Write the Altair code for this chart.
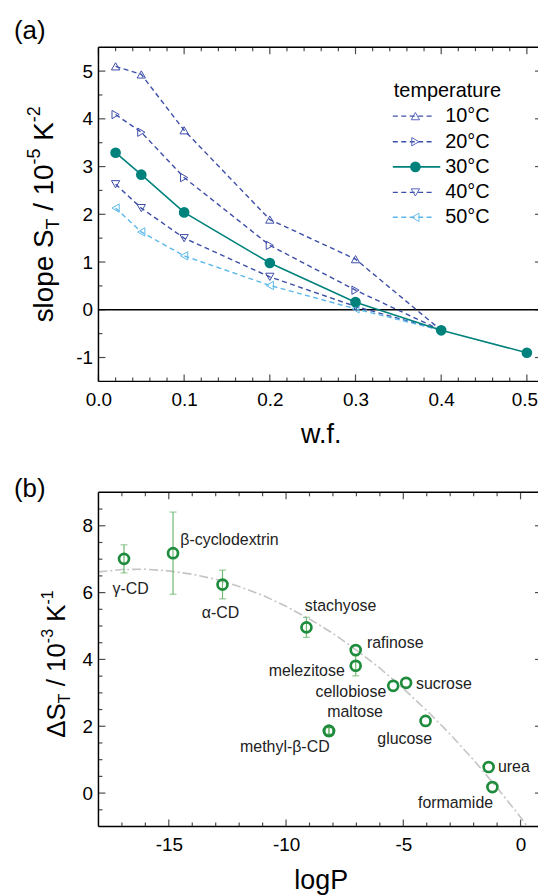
import altair as alt
import pandas as pd

FONT = "Liberation Sans"

# ---------------- panel (a) data ----------------
temps = ["10°C", "20°C", "30°C", "40°C", "50°C"]
wf = [0.02, 0.05, 0.1, 0.2, 0.3, 0.4]
wf30 = [0.02, 0.05, 0.1, 0.2, 0.3, 0.4, 0.5]
s10 = [5.10, 4.93, 3.76, 1.89, 1.06, -0.43]
s20 = [4.09, 3.72, 2.77, 1.35, 0.41, -0.43]
s30 = [3.29, 2.83, 2.04, 0.98, 0.16, -0.43, -0.90]
s40 = [2.63, 2.13, 1.50, 0.69, 0.07, -0.43]
s50 = [2.13, 1.63, 1.13, 0.51, 0.02, -0.43]

# ---------------- panel (b) data ----------------
names = ["γ-CD", "β-cyclodextrin", "α-CD", "stachyose", "rafinose", "melezitose",
         "cellobiose", "sucrose", "maltose", "methyl-β-CD", "glucose", "urea", "formamide"]
logp = [-16.91, -14.82, -12.71, -9.13, -7.03, -7.03, -5.43, -4.88, -8.17, -8.17, -4.05, -1.36, -1.20]
dst = [7.01, 7.18, 6.24, 4.96, 4.28, 3.81, 3.21, 3.30, 1.86, 1.86, 2.16, 0.78, 0.18]
err = [0.42, 1.23, 0.43, 0.30, 0.0, 0.30, 0.0, 0.0, 0.10, 0.10, 0.0, 0.0, 0.0]
fit_x = [-18, -17, -16, -15, -14, -13, -12, -11, -10, -9, -8, -7, -6, -5, -4, -3, -2, -1, 0, 0.3]
fit_y = [6.62, 6.69, 6.70, 6.65, 6.55, 6.40, 6.18, 5.92, 5.59, 5.21, 4.78, 4.28, 3.74, 3.13,
         2.47, 1.76, 0.99, 0.16, -0.72, -1.0]

# tick values
xa_major = [0, 0.1, 0.2, 0.3, 0.4, 0.5]
xa_minor = [0.02, 0.04, 0.06, 0.08, 0.12, 0.14, 0.16, 0.18, 0.22, 0.24, 0.26, 0.28,
            0.32, 0.34, 0.36, 0.38, 0.42, 0.44, 0.46, 0.48]
ya_major = [-1, 0, 1, 2, 3, 4, 5]
ya_minor = [-0.5, 0.5, 1.5, 2.5, 3.5, 4.5]
xb_major = [-15, -10, -5, 0]
xb_minor = [-17, -16, -14, -13, -12, -11, -9, -8, -7, -6, -4, -3, -2, -1]
yb_major = [0, 2, 4, 6, 8]
yb_minor = [-0.5, 0.5, 1, 1.5, 2.5, 3, 3.5, 4.5, 5, 5.5, 6.5, 7, 7.5, 8.5]

W, H = 442, 336   # plot runs off the right edge of the figure, as in the reference

# ---------------- styles ----------------
line_colors = ["#3d4ea8", "#3d4ea8", "#00827c", "#3d4ea8", "#5bb8ea"]
mark_colors = ["#5565bd", "#5565bd", "#00827c", "#5565bd", "#6cc0ee"]
shapes = ["triangle-up", "triangle-right", "circle", "triangle-down", "triangle-left"]
GREEN = "#1e8c3c"
EGREEN = "#72b872"

label_style = {
    "γ-CD": (6.7, 30, "center"),
    "β-cyclodextrin": (7.3, -13.7, "left"),
    "α-CD": (-2, 28.7, "center"),
    "stachyose": (-1.7, -21.7, "left"),
    "rafinose": (11.3, -6.7, "left"),
    "melezitose": (-11, 5, "right"),
    "cellobiose": (-7, 6, "right"),
    "sucrose": (10, 1, "left"),
    "maltose": (-1.7, -19.3, "left"),
    "methyl-β-CD": (0.7, 15.7, "right"),
    "glucose": (-21, 18, "center"),
    "urea": (9.3, 0, "left"),
    "formamide": (0.7, 16, "right"),
}

ONE = pd.DataFrame({"k": [0]})

AW = {"s": .5, "l": .222, "o": .556, "p": .556, "e": .556, " ": .278, "S": .667, "T": .611,
      "/": .278, "1": .556, "0": .556, "-": .333, "5": .556, "K": .667, "2": .556, "3": .556,
      "Δ": .667}


def tw(t, fs):
    return sum(AW.get(c, .556) for c in t) * fs


def rot_title(pieces, bx, y_start):
    layers = []
    y = y_start
    for txt, fs, shift in pieces:
        lead = len(txt) - len(txt.lstrip(" "))
        y -= tw(" " * lead, fs)
        core = txt.lstrip(" ")
        layers.append(
            alt.Chart(ONE).mark_text(text=core, angle=270, align="left", baseline="alphabetic",
                                     font=FONT, fontSize=fs, color="black")
            .encode(x=alt.value(bx + shift), y=alt.value(y)))
        y -= tw(core, fs)
    return layers


def total_w(pieces):
    return sum(tw(t, fs) for t, fs, _ in pieces)


def text_at(txt, x, y, fs, align="left", baseline="alphabetic", color="black"):
    return alt.Chart(ONE).mark_text(text=txt, align=align, baseline=baseline, font=FONT,
                                    fontSize=fs, color=color).encode(x=alt.value(x), y=alt.value(y))


def axis(values, expr, pad, **kw):
    return alt.Axis(values=values, labelExpr=expr, title=None, labelPadding=pad, ticks=False,
                    tickSize=0, domain=False, grid=False, labelFontSize=19, labelFont=FONT,
                    labelColor="black", labelFlush=False, labelOverlap=False, labelBound=False, **kw)


xs_a = alt.Scale(domain=[0, 0.513], nice=False, zero=False)
ys_a = alt.Scale(domain=[-1.5, 5.5], nice=False, zero=False)
xs_b = alt.Scale(domain=[-18, 0.745], nice=False, zero=False)
ys_b = alt.Scale(domain=[-1, 9], nice=False, zero=False)
ax_xa = axis(xa_major, "format(datum.value, '.1f')", 9,
             labelOffset={"condition": {"test": "datum.value > 0.45", "value": -2.5}, "value": 0})
ax_ya = axis(ya_major, "'' + datum.value", 6)
ax_xb = axis(xb_major, "'' + datum.value", 9)
ax_yb = axis(yb_major, "'' + datum.value", 6)


def XA(f):
    return alt.X(f, type="quantitative", scale=xs_a, axis=ax_xa)


def YA(f):
    return alt.Y(f, type="quantitative", scale=ys_a, axis=ax_ya)


def XB(f):
    return alt.X(f, type="quantitative", scale=xs_b, axis=ax_xb)


def YB(f):
    return alt.Y(f, type="quantitative", scale=ys_b, axis=ax_yb)


def frame_layers():
    r = dict(color="black", strokeWidth=1.5)
    return [
        alt.Chart(ONE).mark_rule(**r).encode(x=alt.value(0), y=alt.value(0), y2=alt.value(H)),
        alt.Chart(ONE).mark_rule(**r).encode(x=alt.value(0), x2=alt.value(W), y=alt.value(0)),
        alt.Chart(ONE).mark_rule(**r).encode(x=alt.value(0), x2=alt.value(W), y=alt.value(H)),
    ]


def tick_layers(X, Y, xmaj, xmin, ymaj, ymin):
    out = []
    for vals, L in ((xmaj, 7), (xmin, 4)):
        d = pd.DataFrame({"v": vals})
        for yv in (H - L / 2, L / 2):
            out.append(alt.Chart(d).mark_tick(orient="vertical", size=L, thickness=1.2, color="black")
                       .encode(x=X("v"), y=alt.value(yv)))
    for vals, L in ((ymaj, 7), (ymin, 4)):
        d = pd.DataFrame({"v": vals})
        out.append(alt.Chart(d).mark_tick(orient="horizontal", size=L, thickness=1.2, color="black")
                   .encode(y=Y("v"), x=alt.value(L / 2)))
    # right-hand ticks: only the tips of the major ticks reach into the figure
    d = pd.DataFrame({"v": ymaj})
    out.append(alt.Chart(d).mark_tick(orient="horizontal", size=3, thickness=1.2, color="black")
               .encode(y=Y("v"), x=alt.value(W - 1.5)))
    return out


# ---------------- panel (a) ----------------
rows = []
for t, xs, ys in zip(temps, [wf, wf, wf30, wf, wf], [s10, s20, s30, s40, s50]):
    for x, y in zip(xs, ys):
        rows.append({"temp": t, "wf": x, "slope": y})
dfa = pd.DataFrame(rows)
dfa_dash = dfa[dfa.temp != "30°C"]
dfa_solid = dfa[dfa.temp == "30°C"]

col_line = alt.Color("temp:N", scale=alt.Scale(domain=temps, range=line_colors), legend=None)

zero = alt.Chart(ONE).mark_rule(color="black", strokeWidth=1.5).encode(
    y=alt.Y(datum=0, scale=ys_a, axis=ax_ya), x=alt.value(0), x2=alt.value(W))
dash_lines = alt.Chart(dfa_dash).mark_line(strokeDash=[5, 3.5], strokeWidth=1.4).encode(
    x=XA("wf"), y=YA("slope"), color=col_line, detail="temp:N")
tri = alt.Chart(dfa_dash[dfa_dash.wf < 0.35]).mark_point(filled=False, size=70, strokeWidth=1, opacity=1).encode(
    x=XA("wf"), y=YA("slope"),
    color=alt.Color("temp:N", scale=alt.Scale(domain=temps, range=mark_colors), legend=None),
    shape=alt.Shape("temp:N", scale=alt.Scale(domain=temps, range=shapes), legend=None))
teal_line = alt.Chart(dfa_solid).mark_line(color="#00827c", strokeWidth=1.6).encode(x=XA("wf"), y=YA("slope"))
teal_pts = alt.Chart(dfa_solid).mark_point(filled=True, size=115, color="#00827c", opacity=1).encode(
    x=XA("wf"), y=YA("slope"))

leg = [text_at("temperature", 297, 50, 20)]
leg_y = [69.3, 95, 120.3, 146, 171]
for i, t in enumerate(temps):
    yy = leg_y[i]
    if t == "30°C":
        leg.append(alt.Chart(ONE).mark_rule(color=line_colors[i], strokeWidth=1.6)
                   .encode(x=alt.value(296), x2=alt.value(343.7), y=alt.value(yy)))
        leg.append(alt.Chart(ONE).mark_point(filled=True, size=115, color=line_colors[i], opacity=1)
                   .encode(x=alt.value(318.7), y=alt.value(yy)))
    else:
        leg.append(alt.Chart(ONE).mark_rule(color=line_colors[i], strokeWidth=1.4, strokeDash=[5, 3.5])
                   .encode(x=alt.value(296), x2=alt.value(337), y=alt.value(yy)))
        leg.append(alt.Chart(ONE).mark_point(filled=False, size=70, strokeWidth=1, shape=shapes[i],
                                             color=mark_colors[i], opacity=1)
                   .encode(x=alt.value(318.7), y=alt.value(yy)))
    leg.append(text_at(t, 348.7, yy, 20, baseline="middle"))

title_a = [("slope S", 28, 0), ("T", 18, 6), (" / 10", 28, 0), ("-5", 18, -13), (" K", 28, 0), ("-2", 18, -13)]
ya_start = H / 2 + total_w(title_a) / 2
panel_a = alt.layer(
    zero, dash_lines, tri, teal_line, teal_pts,
    *frame_layers(),
    *tick_layers(XA, YA, xa_major, xa_minor, ya_major, ya_minor),
    *leg,
    text_at("(a)", -85, -8, 26),
    text_at("w.f.", 224, H + 61.5, 27, align="center"),
    *rot_title(title_a, -46, ya_start),
).properties(width=W, height=H)

# ---------------- panel (b) ----------------
dfb = pd.DataFrame({"name": names, "logp": logp, "dst": dst, "err": err})
dff = pd.DataFrame({"fx": fit_x, "fy": fit_y})

fit = alt.Chart(dff).mark_line(color="#c4c4c4", strokeWidth=1.6, strokeDash=[9, 3, 2, 3], clip=True).encode(
    x=XB("fx"), y=YB("fy"))
eb_base = alt.Chart(dfb).transform_filter("datum.err > 0").transform_calculate(
    lo="datum.dst - datum.err", hi="datum.dst + datum.err")
ebar = eb_base.mark_rule(color=EGREEN, strokeWidth=1.2).encode(x=XB("logp"), y=YB("lo:Q"), y2="hi:Q")
cap_lo = eb_base.mark_tick(orient="horizontal", size=7, thickness=1.2, color=EGREEN).encode(x=XB("logp"), y=YB("lo:Q"))
cap_hi = eb_base.mark_tick(orient="horizontal", size=7, thickness=1.2, color=EGREEN).encode(x=XB("logp"), y=YB("hi:Q"))
pts = alt.Chart(dfb).mark_point(filled=False, size=100, strokeWidth=2.7, color=GREEN, opacity=1).encode(
    x=XB("logp"), y=YB("dst"))

labels = []
for nm, (dx, dy, al) in label_style.items():
    labels.append(alt.Chart(dfb).transform_filter(alt.datum.name == nm)
                  .mark_text(dx=dx, dy=dy, align=al, baseline="middle", font=FONT, fontSize=16, color="#222222")
                  .encode(x=XB("logp"), y=YB("dst"), text="name:N"))

title_b = [("ΔS", 26, 0), ("T", 16, 5), (" / 10", 26, 0), ("-3", 16, -12), (" K", 26, 0), ("-1", 16, -12)]
panel_b = alt.layer(
    fit, ebar, cap_lo, cap_hi, pts, *labels,
    *frame_layers(),
    *tick_layers(XB, YB, xb_major, xb_minor, yb_major, yb_minor),
    text_at("(b)", -85, 5, 26),
    text_at("logP", 224, H + 63, 27, align="center"),
    *rot_title(title_b, -34, 246.7),
).properties(width=W, height=H)

chart = alt.vconcat(panel_a, panel_b, spacing=27.6).properties(
    padding={"left": 13, "top": 15, "right": 0, "bottom": 0},
    background="white",
).configure_view(stroke="transparent")

chart.save("out.html", embed_options={"renderer": "svg", "actions": False})
